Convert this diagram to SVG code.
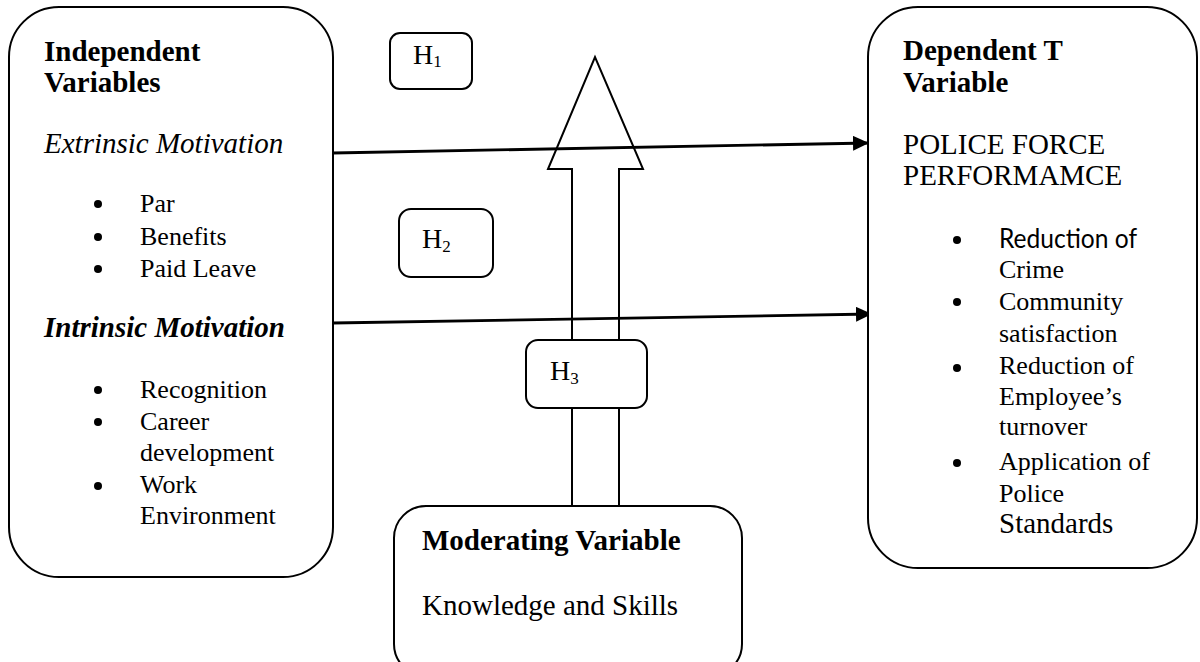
<svg xmlns="http://www.w3.org/2000/svg" width="1200" height="662" viewBox="0 0 1200 662">
<style>
.box{fill:#fff;stroke:#000;stroke-width:2}
.t{font-family:"Liberation Serif","Times New Roman",serif;fill:#000}
.h{font-size:29px;font-weight:bold}
.b{font-size:26px}
.l{font-size:29px}
.hl{font-size:28px}
.sub{font-size:17px}
.s{font-family:Lato,"Liberation Sans",sans-serif;font-size:26px;fill:#000}
.line{stroke:#000;stroke-width:2.8;fill:none}
</style>
<defs>
<marker id="ah" markerWidth="16" markerHeight="15" refX="16" refY="7.5" orient="auto" markerUnits="userSpaceOnUse">
<path d="M0,0 L16,7.5 L0,15 Z" fill="#000"/>
</marker>
</defs>
<rect width="1200" height="662" fill="#fff"/>

<g id="connectors">
<line class="line" x1="333" y1="153" x2="869" y2="143" marker-end="url(#ah)"/>
<line class="line" x1="333" y1="323" x2="872" y2="314" marker-end="url(#ah)"/>
<path d="M572,506 L572,169 L548,169 L595,57 L643,169 L619,169 L619,506" fill="none" stroke="#000" stroke-width="2"/>
</g>

<g id="independent">
<rect class="box" x="9" y="7" width="324" height="570" rx="50"/>
<text class="t h" x="44" y="61">Independent</text>
<text class="t h" x="44" y="92">Variables</text>
<text class="t l" x="44" y="153" font-style="italic">Extrinsic Motivation</text>
<circle cx="98" cy="204" r="4"/><text class="t b" x="140" y="212">Par</text>
<circle cx="98" cy="237" r="4"/><text class="t b" x="140" y="245">Benefits</text>
<circle cx="98" cy="269" r="4"/><text class="t b" x="140" y="277">Paid Leave</text>
<text class="t h" x="44" y="337" font-style="italic">Intrinsic Motivation</text>
<circle cx="98" cy="390" r="4"/><text class="t b" x="140" y="398">Recognition</text>
<circle cx="98" cy="422" r="4"/><text class="t b" x="140" y="430">Career</text>
<text class="t b" x="140" y="461">development</text>
<circle cx="98" cy="486" r="4"/><text class="t b" x="140" y="493">Work</text>
<text class="t b" x="140" y="524">Environment</text>
</g>

<g id="dependent">
<rect class="box" x="868" y="7" width="329" height="561" rx="50"/>
<text class="t h" x="903" y="60">Dependent T</text>
<text class="t h" x="903" y="92">Variable</text>
<text class="t l" x="903" y="154">POLICE FORCE</text>
<text class="t l" x="903" y="185">PERFORMAMCE</text>
<circle cx="957" cy="240" r="4"/><text class="s" x="999" y="248" textLength="138" lengthAdjust="spacingAndGlyphs">Reduction of</text>
<text class="t b" x="999" y="278">Crime</text>
<circle cx="957" cy="302" r="4"/><text class="t b" x="999" y="310">Community</text>
<text class="t b" x="999" y="342">satisfaction</text>
<circle cx="957" cy="368" r="4"/><text class="t b" x="999" y="374">Reduction of</text>
<text class="t b" x="999" y="405">Employee’s</text>
<text class="t b" x="999" y="435">turnover</text>
<circle cx="957" cy="463" r="4"/><text class="t b" x="999" y="470">Application of</text>
<text class="t b" x="999" y="502">Police</text>
<text class="t l" x="999" y="533">Standards</text>
</g>

<g id="moderating">
<rect class="box" x="394" y="506" width="348" height="170" rx="32"/>
<text class="t h" x="422" y="550">Moderating Variable</text>
<text class="t l" x="422" y="615">Knowledge and Skills</text>
</g>

<g id="h1">
<rect class="box" x="390" y="33" width="82" height="56" rx="10"/>
<text class="t hl" x="413" y="64">H<tspan class="sub" dy="3">1</tspan></text>
</g>
<g id="h2">
<rect class="box" x="399" y="209" width="94" height="68" rx="12"/>
<text class="t hl" x="422" y="248">H<tspan class="sub" dy="4">2</tspan></text>
</g>
<g id="h3">
<rect class="box" x="526" y="340" width="121" height="68" rx="12"/>
<text class="t hl" x="550" y="380">H<tspan class="sub" dy="4">3</tspan></text>
</g>
</svg>
